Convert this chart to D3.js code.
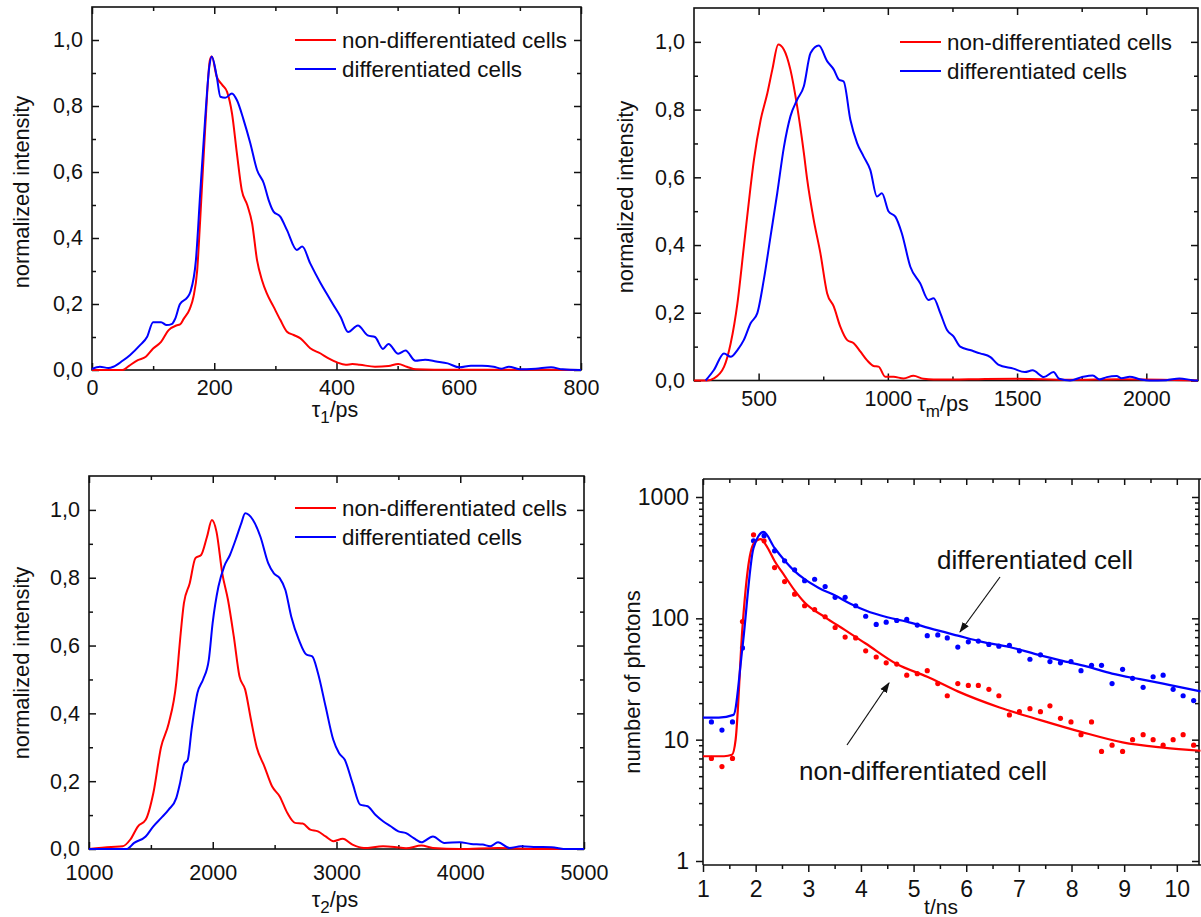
<!DOCTYPE html>
<html>
<head>
<meta charset="utf-8">
<script src="https://cdn.jsdelivr.net/npm/d3@7"></script>
<style>
  body { margin: 0; background: #fff; }
  svg { display: block; }
  text { font-family: "Liberation Sans", Arial, sans-serif; fill: #111; }
</style>
</head>
<body>
<svg id="chart" width="1201" height="917"></svg>
<script>
// ---- tau1 distribution (ps) ----
const tau1NonDiffX = [0, 50, 60, 75, 88, 100, 113, 125, 138, 144, 150, 160, 166, 172, 177, 185, 193, 196, 204, 213, 221, 229, 237, 245, 254, 262, 270, 278, 286, 297, 308, 319, 330, 341, 357, 374, 387, 401, 415, 426, 438, 463, 485, 501, 515, 530, 560, 650, 800]
const tau1NonDiffY = [0, 0, 0.012, 0.03, 0.04, 0.065, 0.085, 0.12, 0.135, 0.138, 0.155, 0.185, 0.222, 0.3, 0.455, 0.727, 0.94, 0.95, 0.889, 0.864, 0.843, 0.778, 0.657, 0.545, 0.5, 0.444, 0.333, 0.273, 0.232, 0.192, 0.152, 0.116, 0.106, 0.096, 0.066, 0.05, 0.035, 0.023, 0.016, 0.018, 0.016, 0.01, 0.012, 0.018, 0.01, 0.002, 0.001, 0.001, 0]
const tau1DiffX = [0, 13, 27, 35, 50, 62, 79, 90, 100, 113, 122, 131, 136, 144, 156, 161, 170, 177, 185, 192, 196, 204, 210, 218, 229, 237, 248, 259, 270, 281, 289, 297, 308, 319, 335, 344, 357, 374, 387, 394, 407, 419, 435, 451, 463, 476, 485, 501, 513, 529, 545, 563, 582, 601, 620, 638, 657, 670, 682, 701, 726, 751, 770, 800]
const tau1DiffY = [0.003, 0.01, 0.006, 0.01, 0.028, 0.045, 0.076, 0.1, 0.145, 0.145, 0.136, 0.14, 0.155, 0.2, 0.22, 0.237, 0.333, 0.535, 0.758, 0.92, 0.95, 0.89, 0.828, 0.825, 0.838, 0.818, 0.758, 0.687, 0.606, 0.566, 0.515, 0.48, 0.465, 0.424, 0.364, 0.374, 0.323, 0.263, 0.222, 0.2, 0.16, 0.115, 0.135, 0.105, 0.1, 0.064, 0.079, 0.049, 0.059, 0.028, 0.031, 0.026, 0.02, 0.008, 0.013, 0.013, 0.01, 0.004, 0.01, 0.002, 0.004, 0.008, 0.002, 0]

// ---- tau_m distribution (ps) ----
const tauMNonDiffX = [250, 300, 327, 366, 392, 418, 443, 469, 482, 508, 534, 553, 576, 598, 623, 649, 675, 688, 713, 739, 765, 791, 816, 842, 868, 894, 919, 945, 964, 990, 1022, 1061, 1099, 1138, 1177, 1250, 1350, 1500, 1700, 1900, 2200]
const tauMNonDiffY = [0, 0, 0.006, 0.04, 0.11, 0.228, 0.396, 0.573, 0.652, 0.77, 0.849, 0.918, 0.992, 0.977, 0.918, 0.81, 0.672, 0.593, 0.475, 0.376, 0.258, 0.218, 0.159, 0.12, 0.11, 0.085, 0.06, 0.043, 0.041, 0.011, 0.011, 0.006, 0.014, 0.005, 0.003, 0.003, 0.004, 0.005, 0.002, 0.004, 0]
const tauMDiffX = [295, 327, 366, 392, 418, 443, 469, 495, 520, 546, 572, 598, 623, 649, 675, 701, 733, 765, 791, 810, 829, 855, 881, 906, 932, 958, 977, 1003, 1029, 1054, 1087, 1125, 1157, 1177, 1203, 1229, 1254, 1280, 1318, 1357, 1397, 1427, 1486, 1530, 1560, 1604, 1641, 1663, 1705, 1755, 1793, 1819, 1847, 1885, 1904, 1936, 1974, 2012, 2077, 2128, 2180, 2200]
const tauMDiffY = [0, 0.031, 0.08, 0.07, 0.09, 0.12, 0.169, 0.199, 0.297, 0.425, 0.553, 0.69, 0.78, 0.829, 0.869, 0.967, 0.989, 0.943, 0.918, 0.889, 0.883, 0.77, 0.701, 0.662, 0.622, 0.543, 0.553, 0.499, 0.484, 0.435, 0.336, 0.287, 0.238, 0.243, 0.199, 0.149, 0.13, 0.1, 0.09, 0.08, 0.069, 0.047, 0.035, 0.025, 0.03, 0.01, 0.025, 0.005, 0, 0.011, 0.015, 0.003, 0.01, 0.013, 0.007, 0.011, 0.004, 0, 0.001, 0.006, 0.001, 0]

// ---- tau2 distribution (ps) ----
const tau2NonDiffX = [1000, 1179, 1272, 1334, 1396, 1458, 1520, 1582, 1644, 1705, 1736, 1767, 1814, 1860, 1906, 1953, 1993, 2030, 2077, 2123, 2170, 2216, 2262, 2309, 2355, 2417, 2479, 2541, 2603, 2665, 2727, 2788, 2850, 2912, 2974, 3051, 3129, 3222, 3376, 3469, 3562, 3686, 3779, 3995, 4305, 4614, 5000]
const tau2NonDiffY = [0, 0.006, 0.008, 0.028, 0.067, 0.086, 0.165, 0.3, 0.37, 0.49, 0.617, 0.725, 0.784, 0.858, 0.867, 0.92, 0.97, 0.936, 0.813, 0.735, 0.627, 0.509, 0.47, 0.381, 0.3, 0.244, 0.185, 0.155, 0.106, 0.077, 0.075, 0.057, 0.052, 0.037, 0.023, 0.03, 0.013, 0.003, 0.008, 0.006, 0.002, 0.01, 0.003, 0, 0.003, 0, 0]
const tau2DiffX = [1000, 1303, 1365, 1458, 1520, 1582, 1644, 1705, 1736, 1767, 1798, 1829, 1876, 1922, 1968, 1999, 2046, 2092, 2139, 2185, 2231, 2262, 2324, 2386, 2448, 2494, 2541, 2587, 2634, 2696, 2758, 2804, 2850, 2912, 2974, 3020, 3067, 3129, 3191, 3252, 3314, 3376, 3438, 3500, 3562, 3624, 3686, 3779, 3872, 3995, 4087, 4181, 4243, 4305, 4398, 4490, 4614, 4738, 4861, 5000]
const tau2DiffY = [0, 0, 0.018, 0.037, 0.067, 0.091, 0.116, 0.15, 0.195, 0.249, 0.263, 0.352, 0.46, 0.5, 0.558, 0.666, 0.774, 0.833, 0.867, 0.912, 0.961, 0.99, 0.971, 0.92, 0.843, 0.813, 0.799, 0.764, 0.686, 0.617, 0.573, 0.568, 0.519, 0.42, 0.322, 0.283, 0.263, 0.195, 0.131, 0.126, 0.101, 0.082, 0.067, 0.052, 0.047, 0.032, 0.02, 0.037, 0.018, 0.02, 0.015, 0.013, 0.008, 0.02, 0.003, 0.008, 0.006, 0.005, 0, 0]

// ---- photon decay (t in ns, counts) ----
const decayT = [1.16, 1.36, 1.56, 1.75, 1.96, 2.16, 2.36, 2.55, 2.74, 2.93, 3.12, 3.32, 3.51, 3.70, 3.90, 4.09, 4.29, 4.48, 4.68, 4.87, 5.07, 5.26, 5.46, 5.64, 5.84, 6.04, 6.23, 6.43, 6.62, 6.82, 7.01, 7.21, 7.41, 7.59, 7.79, 7.99, 8.18, 8.38, 8.57, 8.77, 8.97, 9.16, 9.36, 9.55, 9.74, 9.93, 10.12, 10.32]
const decayDiff = [14, 12, 14, 57, 435, 480, 360, 298, 251, 204, 210, 183, 149, 149, 127, 104, 89, 93, 96, 98, 88, 72, 73, 69, 58, 64, 65, 61, 59, 60, 54, 46, 50, 44, 43, 44, 37, 41, 41, 29, 38, 32, 27, 33, 34, 26, 23, 21]
const decayNonDiff = [7, 6, 7, 94, 488, 435, 262, 201, 158, 127, 118, 103, 84, 70, 69, 54, 48, 43, 42, 34, 35, 37, 29, 23, 29, 28, 28, 26, 23, 16, 17, 18, 17, 19, 15, 14, 11, 14, 8, 9, 8, 10, 11, 10, 9, 10, 11, 9]
const fitDiffT = [1, 1.3, 1.58, 1.75, 1.96, 2.15, 2.36, 2.55, 2.74, 2.93, 3.2, 3.51, 3.8, 4.09, 4.5, 4.87, 5.3, 5.84, 6.3, 6.82, 7.3, 7.79, 8.3, 8.77, 9.3, 9.74, 10.45]
const fitDiff = [15.2, 15.2, 16, 58, 380, 515, 380, 300, 245, 210, 178, 154, 132, 116, 102, 94, 83, 72, 64, 58, 51, 45, 40, 35, 31.5, 29, 25]
const fitNonDiffT = [1, 1.4, 1.55, 1.62, 1.75, 1.85, 1.96, 2.1, 2.2, 2.36, 2.55, 2.74, 2.93, 3.32, 3.7, 4.09, 4.68, 5.26, 5.84, 6.62, 7.41, 8.18, 8.97, 9.74, 10.45]
const fitNonDiff = [7.3, 7.3, 7.5, 10, 85, 250, 410, 450, 400, 297, 224, 170, 135, 102, 80, 62, 42, 33, 25, 18.5, 14.5, 11.6, 9.5, 8.6, 8.1]

const legendLabels = ["non-differentiated cells", "differentiated cells"]
const RED = "#ff0000", BLUE = "#0000ff"

const svg = d3.select("#chart")
const zip = (xs, ys) => xs.map((x, i) => [x, ys[i]])
const commaFmt = d => d.toFixed(1).replace(".", ",")

function styleAxis(g, fs) {
  g.select(".domain").remove()
  g.selectAll("line").attr("stroke", "#111").attr("stroke-width", 1.5)
  g.selectAll("text").attr("font-size", fs).attr("fill", "#111").attr("font-family", null)
}

function distPanel(p) {
  const x = d3.scaleLinear().domain(p.xDomain).range([p.left, p.right])
  const y = d3.scaleLinear().domain([0, 1.1]).range([p.bottom, p.top])
  const g = svg.append("g")
  const majorY = [0, 0.2, 0.4, 0.6, 0.8, 1.0]
  const minorY = [0.1, 0.3, 0.5, 0.7, 0.9]

  g.append("g").attr("transform", `translate(0,${p.bottom})`)
    .call(d3.axisBottom(x).tickValues(p.xTicks).tickSize(-7).tickPadding(p.xPad).tickFormat(d3.format("d")))
    .call(a => styleAxis(a, 21.5))
  g.append("g").attr("transform", `translate(0,${p.bottom})`)
    .call(d3.axisBottom(x).tickValues(p.xMinor).tickSize(-4).tickFormat(""))
    .call(a => styleAxis(a, 21))
  g.append("g").attr("transform", `translate(0,${p.top})`)
    .call(d3.axisTop(x).tickValues(p.xTicks).tickSize(-7).tickFormat(""))
    .call(a => styleAxis(a, 21))
  g.append("g").attr("transform", `translate(0,${p.top})`)
    .call(d3.axisTop(x).tickValues(p.xMinor).tickSize(-4).tickFormat(""))
    .call(a => styleAxis(a, 21))
  g.append("g").attr("transform", `translate(${p.left},0)`)
    .call(d3.axisLeft(y).tickValues(majorY).tickSize(-7).tickPadding(9).tickFormat(commaFmt))
    .call(a => styleAxis(a, 21.5))
  g.append("g").attr("transform", `translate(${p.left},0)`)
    .call(d3.axisLeft(y).tickValues(minorY).tickSize(-4).tickFormat(""))
    .call(a => styleAxis(a, 21))
  g.append("g").attr("transform", `translate(${p.right},0)`)
    .call(d3.axisRight(y).tickValues(majorY).tickSize(-7).tickFormat(""))
    .call(a => styleAxis(a, 21))
  g.append("g").attr("transform", `translate(${p.right},0)`)
    .call(d3.axisRight(y).tickValues(minorY).tickSize(-4).tickFormat(""))
    .call(a => styleAxis(a, 21))

  g.append("rect")
    .attr("x", p.left).attr("y", p.top)
    .attr("width", p.right - p.left).attr("height", p.bottom - p.top)
    .attr("fill", "none").attr("stroke", "#111").attr("stroke-width", 1.6)

  const line = d3.line().x(d => x(d[0])).y(d => y(d[1])).curve(d3.curveMonotoneX)
  g.append("path").datum(zip(p.redX, p.redY))
    .attr("d", line).attr("fill", "none").attr("stroke", RED).attr("stroke-width", 2)
  g.append("path").datum(zip(p.blueX, p.blueY))
    .attr("d", line).attr("fill", "none").attr("stroke", BLUE).attr("stroke-width", 2)

  // legend
  const lg = g.append("g")
  legendLabels.forEach((lab, i) => {
    const ly = p.legendY + i * 29
    lg.append("line").attr("x1", p.legendX).attr("x2", p.legendX + 41)
      .attr("y1", ly).attr("y2", ly)
      .attr("stroke", i === 0 ? RED : BLUE).attr("stroke-width", 2.2)
    lg.append("text").attr("x", p.legendX + 47).attr("y", ly + 8)
      .attr("font-size", 22.4).text(lab)
  })

  // axis titles
  const xt = g.append("text").attr("x", p.xTitleX).attr("y", p.xTitleY)
    .attr("text-anchor", "middle").attr("font-size", 21.5)
  xt.append("tspan").text("\u03c4")
  xt.append("tspan").attr("dy", 6).attr("font-size", 17).text(p.sub)
  xt.append("tspan").attr("dy", -6).text("/ps")

  g.append("text")
    .attr("transform", `translate(${p.yTitleX},${p.yTitleY}) rotate(-90)`)
    .attr("text-anchor", "middle").attr("font-size", 21.8)
    .text("normalized intensity")
}

distPanel({
  xDomain: [0, 800], left: 92, right: 581, top: 7, bottom: 370, xPad: 10,
  xTicks: [0, 200, 400, 600, 800], xMinor: [100, 300, 500, 700],
  redX: tau1NonDiffX, redY: tau1NonDiffY, blueX: tau1DiffX, blueY: tau1DiffY,
  legendX: 295, legendY: 40, sub: "1", xTitleX: 335, xTitleY: 417,
  yTitleX: 29, yTitleY: 192
})
distPanel({
  xDomain: [250, 2200], left: 694, right: 1198, top: 8, bottom: 380.5, xPad: 10,
  xTicks: [500, 1000, 1500, 2000], xMinor: [750, 1250, 1750],
  redX: tauMNonDiffX, redY: tauMNonDiffY, blueX: tauMDiffX, blueY: tauMDiffY,
  legendX: 900, legendY: 42, sub: "m", xTitleX: 943, xTitleY: 411,
  yTitleX: 633, yTitleY: 197
})
distPanel({
  xDomain: [1000, 5000], left: 89, right: 584, top: 476, bottom: 849, xPad: 15.5,
  xTicks: [1000, 2000, 3000, 4000, 5000], xMinor: [1500, 2500, 3500, 4500],
  redX: tau2NonDiffX, redY: tau2NonDiffY, blueX: tau2DiffX, blueY: tau2DiffY,
  legendX: 295, legendY: 508, sub: "2", xTitleX: 335, xTitleY: 907,
  yTitleX: 29, yTitleY: 663
})

// ---- decay panel (log scale) ----
{
  const L = 703, R = 1199, T = 479, B = 861, XB = 865
  const x = d3.scaleLinear().domain([1, 10.45]).range([L, 1200.5])
  const y = d3.scaleLog().domain([1, 1407]).range([B, T])
  const g = svg.append("g")
  const xMaj = d3.range(1, 11), xMin = d3.range(1.5, 10.5, 1)
  const yMaj = [1, 10, 100, 1000]
  const yMin = [2, 3, 4, 5, 6, 7, 8, 9, 20, 30, 40, 50, 60, 70, 80, 90, 200, 300, 400, 500, 600, 700, 800, 900]

  g.append("g").attr("transform", `translate(0,${XB})`)
    .call(d3.axisBottom(x).tickValues(xMaj).tickSize(7).tickPadding(9).tickFormat(d3.format("d")))
    .call(a => styleAxis(a, 23))
  g.append("g").attr("transform", `translate(0,${XB})`)
    .call(d3.axisBottom(x).tickValues(xMin).tickSize(4).tickFormat(""))
    .call(a => styleAxis(a, 23))
  g.append("g").attr("transform", `translate(0,${T})`)
    .call(d3.axisTop(x).tickValues(xMaj).tickSize(-6).tickFormat(""))
    .call(a => styleAxis(a, 23))
  g.append("g").attr("transform", `translate(0,${T})`)
    .call(d3.axisTop(x).tickValues(xMin).tickSize(-4).tickFormat(""))
    .call(a => styleAxis(a, 23))
  g.append("g").attr("transform", `translate(${L},0)`)
    .call(d3.axisLeft(y).tickValues(yMaj).tickSize(7).tickPadding(7).tickFormat(d3.format("d")))
    .call(a => styleAxis(a, 23))
  g.append("g").attr("transform", `translate(${L},0)`)
    .call(d3.axisLeft(y).tickValues(yMin).tickSize(4).tickFormat(""))
    .call(a => styleAxis(a, 23))
  g.append("g").attr("transform", `translate(${R},0)`)
    .call(d3.axisRight(y).tickValues(yMaj).tickSize(-7).tickFormat(""))
    .call(a => styleAxis(a, 23))
  g.append("g").attr("transform", `translate(${R},0)`)
    .call(d3.axisRight(y).tickValues(yMin).tickSize(-4).tickFormat(""))
    .call(a => styleAxis(a, 23))

  g.append("path").attr("d", `M${L},${T}H1201M${L},${T}V${XB}M${L},${XB}H1201M${R},${T}V${XB}`)
    .attr("fill", "none").attr("stroke", "#111").attr("stroke-width", 1.6)

  const line = d3.line().x(d => x(d[0])).y(d => y(d[1])).curve(d3.curveMonotoneX)
  g.append("g").selectAll("circle").data(zip(decayT, decayNonDiff)).join("circle")
    .attr("cx", d => x(d[0])).attr("cy", d => y(d[1])).attr("r", 2.6).attr("fill", RED)
  g.append("g").selectAll("circle").data(zip(decayT, decayDiff)).join("circle")
    .attr("cx", d => x(d[0])).attr("cy", d => y(d[1])).attr("r", 2.6).attr("fill", BLUE)
  g.append("path").datum(zip(fitNonDiffT, fitNonDiff))
    .attr("d", line).attr("fill", "none").attr("stroke", RED).attr("stroke-width", 2.2)
  g.append("path").datum(zip(fitDiffT, fitDiff))
    .attr("d", line).attr("fill", "none").attr("stroke", BLUE).attr("stroke-width", 2.2)

  // annotations
  svg.append("defs").append("marker").attr("id", "arrow")
    .attr("viewBox", "0 0 10 10").attr("refX", 9).attr("refY", 5)
    .attr("markerWidth", 9).attr("markerHeight", 9).attr("orient", "auto")
    .append("path").attr("d", "M0,1.5L10,5L0,8.5Z").attr("fill", "#111")
  g.append("line").attr("x1", 1000).attr("y1", 577).attr("x2", 960).attr("y2", 632)
    .attr("stroke", "#111").attr("stroke-width", 1.2).attr("marker-end", "url(#arrow)")
  g.append("line").attr("x1", 847).attr("y1", 745).attr("x2", 889).attr("y2", 683)
    .attr("stroke", "#111").attr("stroke-width", 1.2).attr("marker-end", "url(#arrow)")
  g.append("text").attr("x", 937).attr("y", 569).attr("font-size", 26).text("differentiated cell")
  g.append("text").attr("x", 799).attr("y", 780).attr("font-size", 26).text("non-differentiated cell")

  g.append("text").attr("x", 941).attr("y", 914).attr("text-anchor", "middle")
    .attr("font-size", 21).text("t/ns")
  g.append("text")
    .attr("transform", `translate(640,682) rotate(-90)`)
    .attr("text-anchor", "middle").attr("font-size", 22)
    .text("number of photons")
}
</script>
</body>
</html>
